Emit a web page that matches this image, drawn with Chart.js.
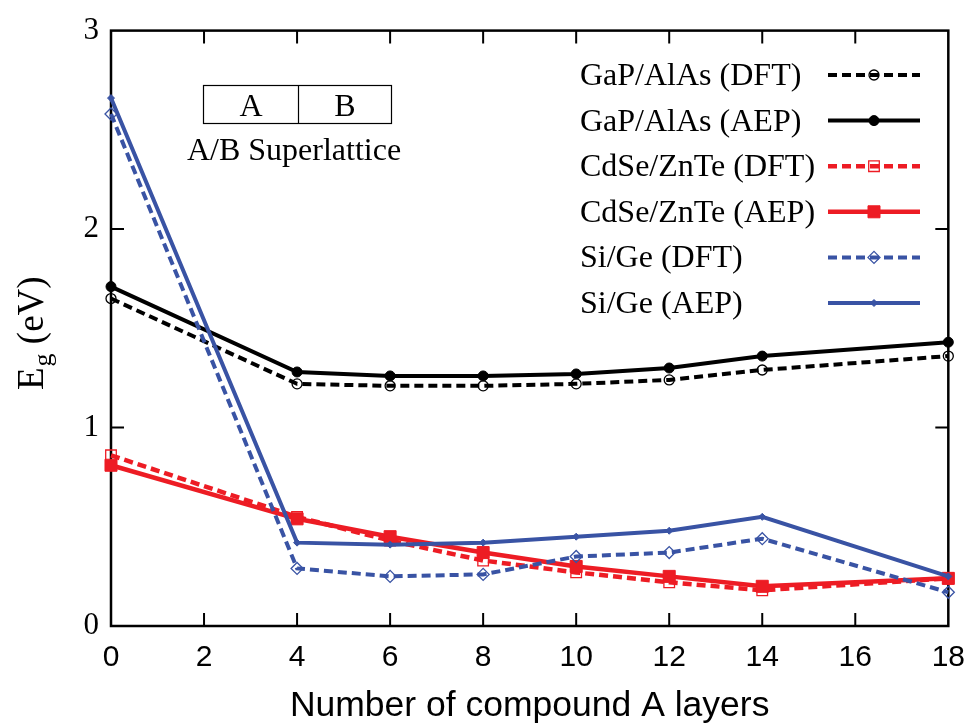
<!DOCTYPE html>
<html>
<head>
<meta charset="utf-8">
<script src="https://cdn.jsdelivr.net/npm/chart.js@4.4.1/dist/chart.umd.min.js"></script>
<style>
  html, body { margin: 0; padding: 0; background: #fff; }
</style>
</head>
<body>
<canvas id="gap" width="979" height="725"></canvas>
<script>
// valores
const capas = [0, 4, 6, 8, 10, 12, 14, 18];
const gap_dft = [1.65, 1.22, 1.21, 1.21, 1.22, 1.24, 1.29, 1.36];
const gap_aep = [1.71, 1.28, 1.26, 1.26, 1.27, 1.30, 1.36, 1.43];
const cdse_dft = [0.86, 0.55, 0.43, 0.33, 0.27, 0.22, 0.18, 0.24];
const cdse_aep = [0.81, 0.54, 0.45, 0.37, 0.30, 0.25, 0.20, 0.24];
const si_dft = [2.58, 0.29, 0.25, 0.26, 0.35, 0.37, 0.44, 0.17];
const si_aep = [2.66, 0.42, 0.41, 0.42, 0.45, 0.48, 0.55, 0.25];
const nombres = [
  "GaP/AlAs (DFT)",
  "GaP/AlAs (AEP)",
  "CdSe/ZnTe (DFT)",
  "CdSe/ZnTe (AEP)",
  "Si/Ge (DFT)",
  "Si/Ge (AEP)",
];
const ticks_x = [0, 2, 4, 6, 8, 10, 12, 14, 16, 18];
const ticks_y = [0, 1, 2, 3];

const NEGRO = "#000000";
const ROJO = "#ed1c24";
const AZUL = "#3953a4";
const SERIF = "'Liberation Serif', 'Times New Roman', serif";
const SANS = "'Liberation Sans', Arial, sans-serif";

function puntos(valores) {
  return capas.map((c, i) => ({ x: c, y: valores[i] }));
}

function serie(label, valores, color, dash, estilo, radio, relleno, grosor) {
  return {
    label: label,
    data: puntos(valores),
    borderColor: color,
    borderWidth: grosor,
    borderDash: dash ? [9, 5] : [],
    pointStyle: estilo,
    pointRadius: radio,
    pointBorderColor: color,
    pointBorderWidth: relleno ? 1 : 1.3,
    pointBackgroundColor: relleno ? color : "rgba(0,0,0,0)",
    tension: 0,
    clip: false,
  };
}

const datasets = [
  serie(nombres[0], gap_dft, NEGRO, true, "circle", 5, false, 4),
  serie(nombres[1], gap_aep, NEGRO, false, "circle", 5, true, 4),
  serie(nombres[2], cdse_dft, ROJO, true, "rect", 7.5, false, 4.5),
  serie(nombres[3], cdse_aep, ROJO, false, "rect", 8.5, true, 4.5),
  serie(nombres[4], si_dft, AZUL, true, "rectRot", 6, false, 4),
  serie(nombres[5], si_aep, AZUL, false, "rectRot", 3.5, true, 4),
];
// el ultimo dibujado encima
datasets.forEach((d, i) => (d.order = datasets.length - i));

// marco con ticks hacia dentro en los cuatro lados
const plugin_marco = {
  id: "marco",
  beforeDatasetsDraw(chart) {
    const { ctx, chartArea: a, scales } = chart;
    ctx.save();
    ctx.strokeStyle = NEGRO;
    ctx.lineWidth = 2;
    ctx.beginPath();
    scales.x.ticks.forEach((t) => {
      const px = scales.x.getPixelForValue(t.value);
      if (px <= a.left + 1 || px >= a.right - 1) return;
      ctx.moveTo(px, a.bottom);
      ctx.lineTo(px, a.bottom - 13);
      ctx.moveTo(px, a.top);
      ctx.lineTo(px, a.top + 13);
    });
    scales.y.ticks.forEach((t) => {
      const py = scales.y.getPixelForValue(t.value);
      if (py <= a.top + 1 || py >= a.bottom - 1) return;
      ctx.moveTo(a.left, py);
      ctx.lineTo(a.left + 13, py);
      ctx.moveTo(a.right, py);
      ctx.lineTo(a.right - 13, py);
    });
    ctx.stroke();
    ctx.lineWidth = 2.5;
    ctx.strokeRect(a.left, a.top, a.right - a.left, a.bottom - a.top);
    ctx.restore();
  },
};

// leyenda al estilo gnuplot: texto a la izquierda, muestra a la derecha
const plugin_leyenda = {
  id: "leyenda",
  afterDraw(chart) {
    const ctx = chart.ctx;
    ctx.save();
    chart.data.datasets.forEach((ds, i) => {
      const base = 85 + i * 45.6;
      const medio = base - 10;
      ctx.fillStyle = NEGRO;
      ctx.font = "32px " + SERIF;
      ctx.textAlign = "left";
      ctx.textBaseline = "alphabetic";
      ctx.fillText(ds.label, 580, base);
      ctx.setLineDash(ds.borderDash);
      ctx.strokeStyle = ds.borderColor;
      ctx.lineWidth = ds.borderWidth;
      ctx.beginPath();
      ctx.moveTo(828, medio);
      ctx.lineTo(920, medio);
      ctx.stroke();
      ctx.setLineDash([]);
      ctx.fillStyle = ds.pointBackgroundColor;
      ctx.strokeStyle = ds.pointBorderColor;
      ctx.lineWidth = ds.pointBorderWidth;
      Chart.helpers.drawPoint(
        ctx,
        {
          pointStyle: ds.pointStyle,
          radius: ds.pointRadius,
          rotation: 0,
          borderWidth: ds.pointBorderWidth,
        },
        874,
        medio
      );
    });
    ctx.restore();
  },
};

// recuadro A | B y titulo del eje y con subindice
const plugin_textos = {
  id: "textos",
  afterDraw(chart) {
    const ctx = chart.ctx;
    ctx.save();
    ctx.strokeStyle = NEGRO;
    ctx.lineWidth = 1.2;
    ctx.strokeRect(203.5, 85.5, 188, 38);
    ctx.beginPath();
    ctx.moveTo(298.5, 85.5);
    ctx.lineTo(298.5, 123.5);
    ctx.stroke();
    ctx.fillStyle = NEGRO;
    ctx.font = "32px " + SERIF;
    ctx.textAlign = "center";
    ctx.textBaseline = "alphabetic";
    ctx.fillText("A", 251, 116);
    ctx.fillText("B", 345, 116);
    ctx.fillText("A/B Superlattice", 294, 160);

    ctx.translate(43, 390);
    ctx.rotate(-Math.PI / 2);
    ctx.textAlign = "left";
    ctx.font = "37px " + SERIF;
    ctx.fillText("E", 0, 0);
    let w = ctx.measureText("E").width;
    ctx.font = "26px " + SERIF;
    ctx.fillText("g", w + 1, 8);
    w += ctx.measureText("g").width + 1;
    ctx.font = "37px " + SERIF;
    ctx.fillText(" (eV)", w, 0);
    ctx.restore();
  },
};

const ctx = document.getElementById("gap").getContext("2d");
const chart_gap = new Chart(ctx, {
  type: "line",
  data: { datasets: datasets },
  options: {
    responsive: false,
    animation: false,
    layout: { padding: { top: 25, right: 26, left: 0, bottom: 0 } },
    scales: {
      x: {
        type: "linear",
        min: 0,
        max: 18,
        afterBuildTicks: (s) => {
          s.ticks = ticks_x.map((v) => ({ value: v }));
        },
        afterFit: (s) => {
          s.height = 99;
        },
        grid: { display: false, drawTicks: false },
        border: { display: false },
        ticks: {
          padding: 14,
          color: NEGRO,
          maxRotation: 0,
          autoSkip: false,
          font: { family: SANS, size: 30 },
        },
        title: {
          display: true,
          text: "Number of compound A layers",
          color: NEGRO,
          padding: { top: 0, bottom: 1 },
          font: { family: SANS, size: 35.5, lineHeight: 1 },
        },
      },
      y: {
        type: "linear",
        min: 0,
        max: 3,
        afterBuildTicks: (s) => {
          s.ticks = ticks_y.map((v) => ({ value: v }));
        },
        afterFit: (s) => {
          s.width = 111;
        },
        grid: { display: false, drawTicks: false },
        border: { display: false },
        ticks: {
          padding: 12,
          color: NEGRO,
          font: { family: SERIF, size: 31 },
        },
      },
    },
    plugins: {
      legend: { display: false },
      tooltip: { enabled: false },
    },
  },
  plugins: [plugin_marco, plugin_leyenda, plugin_textos],
});
</script>
</body>
</html>
